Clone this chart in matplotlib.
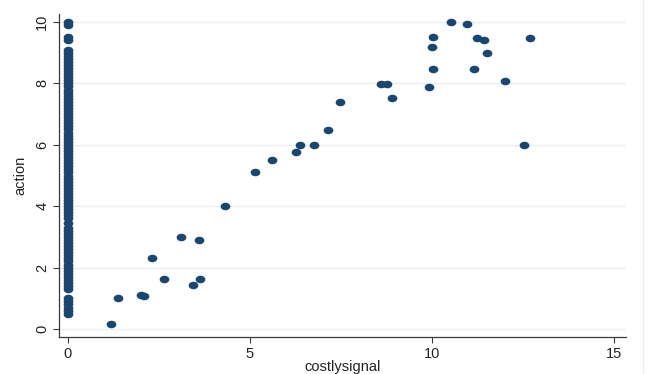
import matplotlib
matplotlib.use("Agg")
import matplotlib.pyplot as plt
from matplotlib.path import Path
from matplotlib.lines import Line2D

# --- data ---
# respondents with no costly signal (x = 0)
zero_actions = [0.5, 0.6, 0.7, 0.8, 0.9, 1.0,
                1.3, 1.4, 1.5, 1.6, 1.7, 1.8, 1.9, 2.0, 2.1, 2.2, 2.3, 2.4, 2.5,
                2.6, 2.7, 2.8, 2.9, 3.0, 3.1, 3.2, 3.3, 3.45, 3.6, 3.7, 3.8, 3.9,
                4.0, 4.1, 4.2, 4.3, 4.4, 4.5, 4.6, 4.7, 4.8, 4.9, 5.0, 5.1, 5.2,
                5.3, 5.4, 5.5, 5.6, 5.7, 5.8, 5.9, 6.0, 6.1, 6.2, 6.3, 6.4, 6.5,
                6.6, 6.7, 6.8, 6.9, 7.0, 7.1, 7.2, 7.3, 7.4, 7.5, 7.6, 7.7, 7.8,
                7.9, 8.0, 8.1, 8.2, 8.3, 8.4, 8.5, 8.6, 8.7, 8.8, 8.9, 9.0, 9.1,
                9.4, 9.5, 9.9, 10.0]

signal_x = [1.18, 1.37, 2.0, 2.1, 2.31, 2.64, 3.1, 3.43, 3.6, 3.63, 4.31,
            5.14, 5.6, 6.26, 6.37, 6.76, 7.14, 7.47, 8.6, 8.76, 8.91, 9.91,
            10.02, 10.0, 10.02, 10.51, 10.96, 11.24, 11.44, 11.51, 11.15,
            12.0, 12.52, 12.68]
signal_y = [0.16, 1.01, 1.1, 1.07, 2.31, 1.63, 3.0, 1.43, 2.9, 1.63, 4.0,
            5.11, 5.5, 5.77, 5.99, 6.0, 6.48, 7.39, 7.98, 7.98, 7.53, 7.87,
            8.47, 9.18, 9.5, 9.99, 9.93, 9.48, 9.4, 8.99, 8.47,
            8.09, 5.99, 9.49]

x_ticks = [0, 5, 10, 15]
y_ticks = [0, 2, 4, 6, 8, 10]

NAVY = "#1a476f"
GRID = "#e9f0f3"
AXIS = "#3a3a3a"

plt.rcParams['font.family'] = ['Liberation Sans', 'DejaVu Sans']

fig = plt.figure(figsize=(6.54, 3.74), dpi=100)
ax = fig.add_axes([59 / 654, 1 - 337 / 374, (626 - 59) / 654, (337 - 14) / 374])

# slightly flattened dot, like the stretched original
circ = Path.unit_circle()
dot = Path(circ.vertices * [1.0, 0.78], circ.codes)

xs = [0] * len(zero_actions) + signal_x
ys = zero_actions + signal_y
ax.plot(xs, ys, linestyle='none', marker=dot, markersize=7,
        color=NAVY, markeredgewidth=0, zorder=3)

ax.set_xlim(-0.247, 15.33)
ax.set_ylim(-0.26, 10.26)
ax.set_xticks(x_ticks)
ax.set_yticks(y_ticks)
ax.grid(axis='y', color=GRID, linewidth=1.0, zorder=0)
ax.set_axisbelow(True)

for s in ['top', 'right']:
    ax.spines[s].set_visible(False)
for s in ['left', 'bottom']:
    ax.spines[s].set_color(AXIS)
    ax.spines[s].set_linewidth(0.9)

ax.tick_params(axis='both', direction='out', length=4, width=0.8,
               color=AXIS, labelsize=10.5, labelcolor='#222222')
ax.tick_params(axis='x', pad=3.5)
ax.tick_params(axis='y', pad=3)
for lab in ax.get_yticklabels():
    lab.set_rotation(90)
    lab.set_va('center')

ax.set_xlabel('costlysignal', fontsize=10.5, color='#222222', va='center')
ax.xaxis.set_label_coords(0.5, -(366.7 - 337) / 323)
ax.set_ylabel('action', fontsize=10.5, color='#222222', va='center')
ax.yaxis.set_label_coords(-(59 - 20) / 567, 0.5)

# faint outer frame line on the right
fig.add_artist(Line2D([643 / 654, 643 / 654], [0, 1], color=GRID,
                      linewidth=1.0, transform=fig.transFigure))

fig.savefig('out.png', dpi=100)
